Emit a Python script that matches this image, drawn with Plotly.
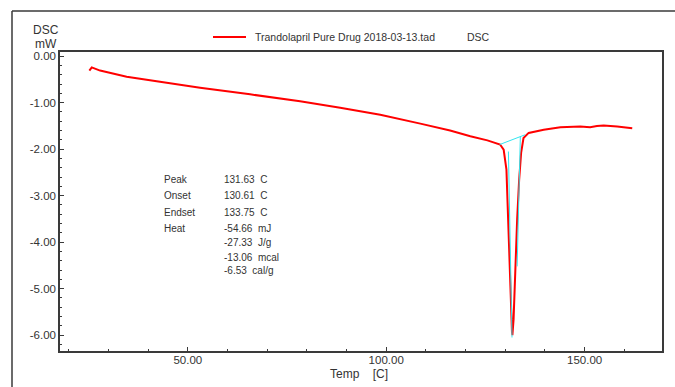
import plotly.graph_objects as go

# DSC thermogram of trandolapril (pure drug), heat flow vs temperature
temp_c = [25.2, 25.8, 27.9, 34.6, 43.0, 53.1, 65.7, 78.3, 88.4, 98.5, 108.6,
          116.1, 121.2, 125.5, 128.7, 129.6, 130.3, 130.8, 131.3, 131.7, 131.8,
          132.1, 132.5, 133.0, 133.5, 134.0, 134.6, 135.9, 139.7, 143.9, 148.9,
          151.4, 153.1, 154.8, 158.2, 162.0]
dsc_mw = [-0.31, -0.24, -0.31, -0.44, -0.55, -0.68, -0.82, -0.97, -1.11, -1.26, -1.45,
          -1.60, -1.72, -1.81, -1.90, -2.01, -2.44, -3.51, -4.95, -5.94, -6.00,
          -5.66, -4.59, -3.51, -2.66, -2.08, -1.76, -1.65, -1.58, -1.53, -1.51,
          -1.53, -1.50, -1.49, -1.51, -1.55]

# peak analysis construction lines (baseline and tangents)
baseline_t = [128.6, 135.0]
baseline_v = [-1.90, -1.69]
left_tan_t = [130.8, 131.7]
left_tan_v = [-2.05, -6.05]
right_tan_t = [133.8, 133.0]
right_tan_v = [-1.73, -4.52]

x_tick_vals = [50, 100, 150]
x_tick_text = ["50.00", "100.00", "150.00"]
y_tick_vals = [0, -1, -2, -3, -4, -5, -6]
y_tick_text = ["0.00", "-1.00", "-2.00", "-3.00", "-4.00", "-5.00", "-6.00"]

result_labels = ["Peak", "Onset", "Endset", "Heat", "", "", ""]
result_values = ["131.63  C", "130.61  C", "133.75  C", "-54.66  mJ",
                 "-27.33  J/g", "-13.06  mcal", "-6.53  cal/g"]

series_name = "Trandolapril Pure Drug 2018-03-13.tad"

W, H = 675, 387
ML, MR, MT, MB = 60, 13, 52, 36
pw, ph = W - ML - MR, H - MT - MB

def px(x):
    return (x - ML) / pw

def py(y):
    return (H - MB - y) / ph

FONT = "Liberation Sans, Arial, sans-serif"
TXT = "#333333"
AX = "#3a3a3a"

fig = go.Figure()
fig.add_trace(go.Scatter(x=temp_c, y=dsc_mw, mode="lines",
                         line=dict(color="#ff0000", width=2), showlegend=False))
for tx, ty in [(baseline_t, baseline_v), (left_tan_t, left_tan_v), (right_tan_t, right_tan_v)]:
    fig.add_trace(go.Scatter(x=tx, y=ty, mode="lines",
                             line=dict(color="#33e6f0", width=1), showlegend=False))

annotations = []
row_y = [179, 195, 212, 228, 242, 257, 270]
for lab, val, yy in zip(result_labels, result_values, row_y):
    if lab:
        annotations.append(dict(x=px(162), y=py(yy), xref="paper", yref="paper",
                                text=lab, showarrow=False, xanchor="left", yanchor="middle",
                                font=dict(family=FONT, size=10, color=TXT)))
    annotations.append(dict(x=px(222), y=py(yy), xref="paper", yref="paper",
                            text=val, showarrow=False, xanchor="left", yanchor="middle",
                            font=dict(family=FONT, size=10, color=TXT)))

# legend entry, file tag and axis titles
annotations += [
    dict(x=px(253), y=py(37), xref="paper", yref="paper", text=series_name,
         showarrow=False, xanchor="left", yanchor="middle",
         font=dict(family=FONT, size=10.5, color=TXT)),
    dict(x=px(465), y=py(37), xref="paper", yref="paper", text="DSC",
         showarrow=False, xanchor="left", yanchor="middle",
         font=dict(family=FONT, size=10.5, color=TXT)),
    dict(x=px(46), y=py(30), xref="paper", yref="paper", text="DSC",
         showarrow=False, xanchor="center", yanchor="middle",
         font=dict(family=FONT, size=12, color=TXT)),
    dict(x=px(46), y=py(44), xref="paper", yref="paper", text="mW",
         showarrow=False, xanchor="center", yanchor="middle",
         font=dict(family=FONT, size=12, color=TXT)),
    dict(x=px(359), y=py(374), xref="paper", yref="paper", text="Temp    [C]",
         showarrow=False, xanchor="center", yanchor="middle",
         font=dict(family=FONT, size=12, color=TXT)),
]

shapes = [
    dict(type="line", xref="paper", yref="paper", x0=px(213), x1=px(246),
         y0=py(37), y1=py(37), line=dict(color="#ff0000", width=2)),
    # outer window frame
    dict(type="line", xref="paper", yref="paper", x0=px(12), x1=px(12),
         y0=py(11), y1=py(H + 5), line=dict(color=AX, width=1.5)),
    dict(type="line", xref="paper", yref="paper", x0=px(12), x1=px(W + 5),
         y0=py(11), y1=py(11), line=dict(color=AX, width=1.5)),
]

fig.update_layout(
    width=W, height=H,
    margin=dict(l=ML, r=MR, t=MT, b=MB, pad=0),
    paper_bgcolor="white", plot_bgcolor="white",
    showlegend=False,
    font=dict(family=FONT, size=11, color=TXT),
    annotations=annotations, shapes=shapes,
    xaxis=dict(range=[17.8, 169.5], showgrid=False, zeroline=False,
               showline=True, mirror=True, linecolor=AX, linewidth=1.5,
               tickvals=x_tick_vals, ticktext=x_tick_text,
               ticks="inside", ticklen=4, tickcolor=AX, ticklabelstandoff=-3,
               minor=dict(ticks="inside", ticklen=2, dtick=10, tick0=0, tickcolor=AX),
               tickfont=dict(family=FONT, size=11.5, color=TXT)),
    yaxis=dict(range=[-6.34, 0.09], showgrid=False, zeroline=False,
               showline=True, mirror=True, linecolor=AX, linewidth=1.5,
               tickvals=y_tick_vals, ticktext=y_tick_text,
               ticks="inside", ticklen=4, tickcolor=AX,
               minor=dict(ticks="inside", ticklen=2, dtick=0.2, tick0=0, tickcolor=AX),
               tickfont=dict(family=FONT, size=11.5, color=TXT)),
)

fig.write_html("out.html")
